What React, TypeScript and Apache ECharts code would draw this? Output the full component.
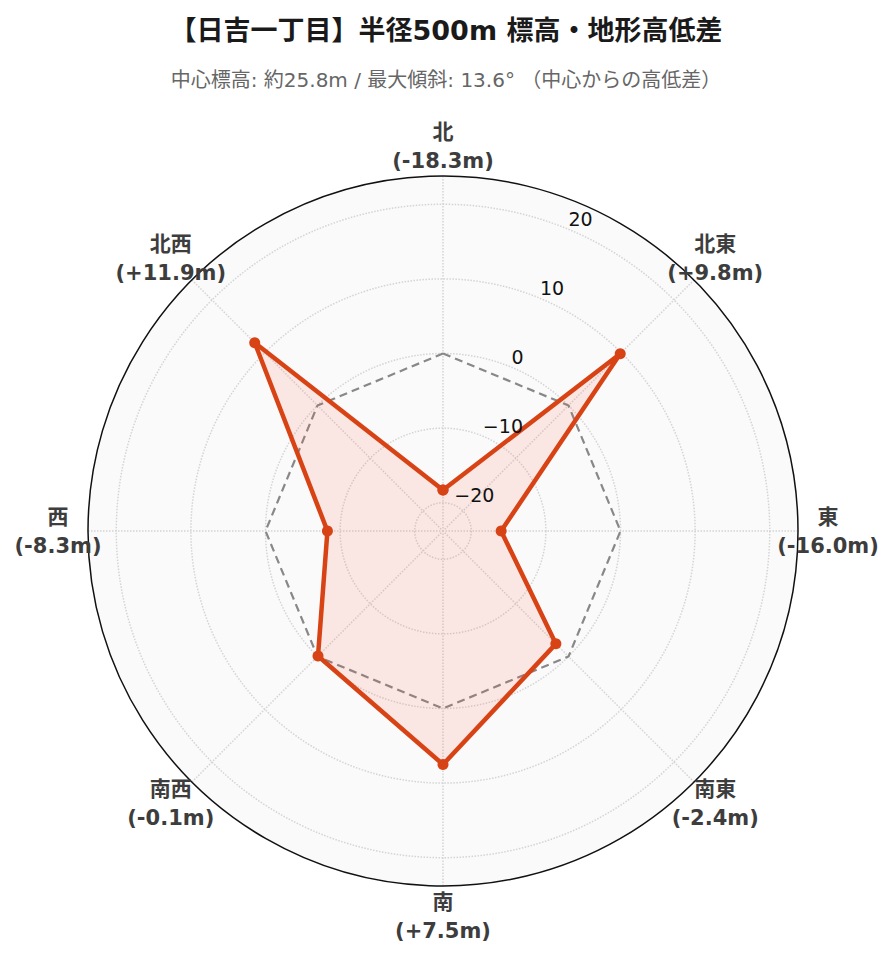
import React, { useEffect, useRef } from "react";
import * as echarts from "echarts";

const titleText = "【日吉一丁目】半径500m 標高・地形高低差";
const subtitleText = "中心標高: 約25.8m / 最大傾斜: 13.6° （中心からの高低差）";

const directions = ["北", "北東", "東", "南東", "南", "南西", "西", "北西"];
const angles = [0, 45, 90, 135, 180, 225, 270, 315];
const elevationDiff = [-18.3, 9.8, -16.0, -2.4, 7.5, -0.1, -8.3, 11.9];
const baseline = [0, 0, 0, 0, 0, 0, 0, 0];
const radialTicks = [-20, -10, 0, 10, 20];
const radialMax = 23.79;
const tickLabelAngle = 22.5;

const FONT = "'DejaVu Sans', 'Noto Sans CJK JP', sans-serif";
const LINE_COLOR = "#d84315";
const CENTER = [443, 531];
const RADIUS = 355;

const closeLoop = (values: number[]) =>
  values.map((v, i) => [v, angles[i]]).concat([[values[0], 360]]);

const dirLabel = (d: string, v: number) =>
  `${d}\n(${v > 0 ? "+" : ""}${v.toFixed(1)}m)`;

const gridLine = { color: "#d4d4d4", type: "dotted", width: 1.5 };

const App: React.FC = () => {
  const chartRef = useRef<HTMLDivElement>(null);

  useEffect(() => {
    document.body.style.margin = "0";
    if (!chartRef.current) return;
    const chart = echarts.init(chartRef.current, null, { renderer: "svg" });

    const option = {
      animation: false,
      backgroundColor: "#ffffff",
      title: [
        {
          text: titleText,
          left: "center",
          top: 12,
          textStyle: { fontFamily: FONT, fontSize: 27, fontWeight: "bold", color: "#1a1a1a" },
        },
        {
          text: subtitleText,
          left: "center",
          top: 65,
          textStyle: { fontFamily: FONT, fontSize: 20, fontWeight: "normal", color: "#666666" },
        },
      ],
      graphic: [
        {
          type: "circle",
          z: -10,
          silent: true,
          shape: { cx: CENTER[0], cy: CENTER[1], r: RADIUS },
          style: { fill: "#fafafa" },
        },
      ],
      polar: [
        { center: CENTER, radius: RADIUS },
        { center: CENTER, radius: RADIUS + 30 },
      ],
      angleAxis: [
        {
          polarIndex: 0,
          type: "value",
          min: 0,
          max: 360,
          interval: 45,
          startAngle: 90,
          clockwise: true,
          axisLine: { show: true, lineStyle: { color: "#111111", width: 1.5 } },
          axisTick: { show: false },
          axisLabel: { show: false },
          splitLine: { show: true, lineStyle: gridLine },
        },
        {
          polarIndex: 1,
          type: "value",
          min: 0,
          max: 360,
          startAngle: 90,
          clockwise: true,
          axisLine: { show: false },
          axisTick: { show: false },
          axisLabel: { show: false },
          splitLine: { show: false },
        },
      ],
      radiusAxis: [
        {
          polarIndex: 0,
          type: "value",
          min: -radialMax,
          max: radialMax,
          axisLine: { show: false },
          axisTick: { show: false, customValues: radialTicks },
          axisLabel: { show: false, customValues: radialTicks },
          splitLine: { show: true, lineStyle: gridLine },
        },
        {
          polarIndex: 1,
          type: "value",
          min: 0,
          max: 1,
          axisLine: { show: false },
          axisTick: { show: false },
          axisLabel: { show: false },
          splitLine: { show: false },
        },
      ],
      series: [
        {
          name: "基準",
          type: "line",
          coordinateSystem: "polar",
          polarIndex: 0,
          data: closeLoop(baseline),
          symbol: "none",
          lineStyle: { color: "#888888", width: 2.2, type: [8, 5] },
          z: 2,
        },
        {
          name: "高低差",
          type: "line",
          coordinateSystem: "polar",
          polarIndex: 0,
          data: closeLoop(elevationDiff),
          symbol: "circle",
          symbolSize: 11,
          itemStyle: { color: LINE_COLOR },
          lineStyle: { color: LINE_COLOR, width: 4.5 },
          areaStyle: { color: "rgba(255,80,40,0.16)", origin: "start" },
          z: 3,
        },
        {
          name: "radialTicks",
          type: "scatter",
          coordinateSystem: "polar",
          polarIndex: 0,
          symbolSize: 1,
          itemStyle: { color: "transparent", opacity: 1 },
          data: radialTicks.map((t) => ({
            value: [t, tickLabelAngle],
            name: t < 0 ? `\u2212${Math.abs(t)}` : String(t),
          })),
          label: {
            show: true,
            position: "right",
            distance: 0,
            offset: [0, -10],
            formatter: "{b}",
            fontFamily: FONT,
            fontSize: 19,
            color: "#111111",
          },
          silent: true,
          z: 4,
        },
        {
          name: "directions",
          type: "scatter",
          coordinateSystem: "polar",
          polarIndex: 1,
          symbolSize: 1,
          itemStyle: { color: "transparent", opacity: 1 },
          data: directions.map((d, i) => ({
            value: [1, angles[i]],
            name: dirLabel(d, elevationDiff[i]),
          })),
          label: {
            show: true,
            position: "inside",
            formatter: "{b}",
            fontFamily: FONT,
            fontSize: 21,
            fontWeight: "bold",
            lineHeight: 29,
            color: "#3d3d3d",
            align: "center",
          },
          silent: true,
          z: 4,
        },
      ],
    };

    chart.setOption(option);
    return () => {
      chart.dispose();
    };
  }, []);

  return <div ref={chartRef} style={{ width: 892, height: 962 }} />;
};

export default App;
